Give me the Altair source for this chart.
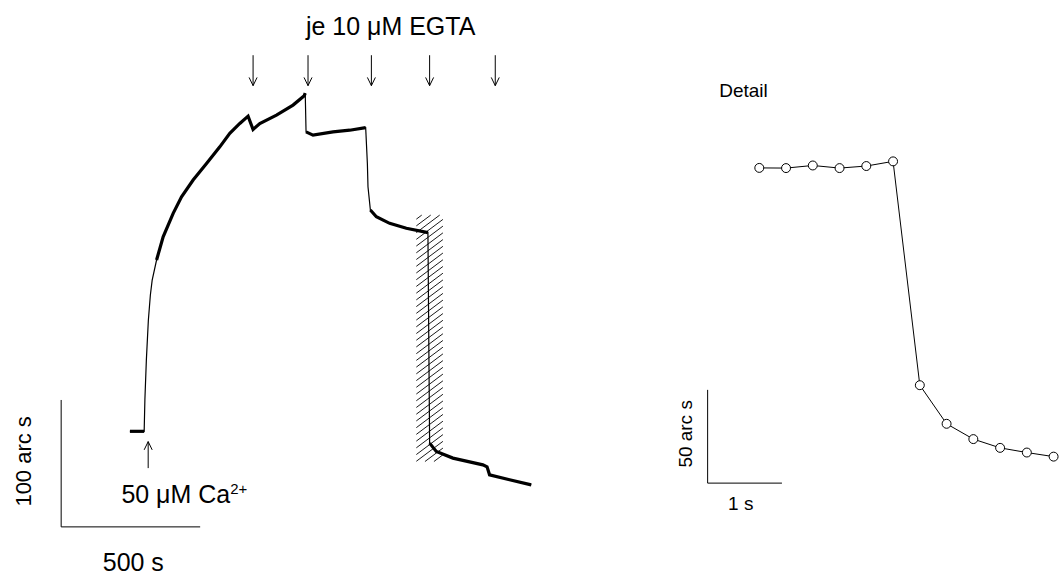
import altair as alt
import numpy as np
import pandas as pd

FONT = "Liberation Sans"

# ---- main recording: time (s) and signal (arc s) ----
trace_t = [247.3, 298.6, 301.2, 306.5, 313.7, 320.9, 327.4, 343.2, 366.9, 402.9,
           433.0, 474.7, 522.9, 570.7, 606.6, 642.6, 672.4, 690.4, 714.5, 774.5,
           834.1, 874.4, 878.0, 880.9, 906.0, 977.9, 1037.9, 1095.4, 1101.5, 1103.7,
           1112.3, 1133.8, 1181.6, 1241.7, 1319.3, 1325.4, 1349.5, 1409.1, 1516.9, 1532.0,
           1541.0, 1612.9, 1690.9]
trace_a = [75.3, 75.3, 100.1, 131.6, 163.0, 182.7, 194.5, 210.3, 228.6, 247.1,
           260.1, 273.3, 286.4, 299.5, 310.1, 317.9, 323.7, 313.2, 317.9, 324.5,
           332.4, 339.8, 341.8, 311.3, 308.7, 311.3, 312.6, 314.6, 286.4, 268.0,
           249.7, 244.4, 239.2, 235.3, 231.9, 66.0, 59.4, 54.2, 48.9, 47.3,
           41.0, 37.1, 33.1]
# stretches of the recording where the detector noise widens the trace
noisy_ranges = [(0, 1), (7, 22), (23, 27), (30, 34), (35, 42)]

# additions
egta_times = [690.4, 888.0, 1115.9, 1325.4, 1561.5]
ca_time = 313.0

# window shown in the detail panel
window_t = [1277.6, 1373.2]
window_a = [51.5, 245.7]

# ---- detail: sampled points around the fourth EGTA step ----
detail_t = [0.0, 0.36, 0.72, 1.08, 1.44, 1.80, 2.16, 2.52, 2.88, 3.24, 3.60, 3.96]
detail_a = [169.0, 168.9, 170.3, 168.9, 170.0, 172.5, 52.5, 31.8, 23.6, 18.9, 16.4, 14.2]

# ---- scales ----
MX = alt.Scale(domain=[-220, 2080], nice=False, zero=False)
MY = alt.Scale(domain=[-38.5, 415], nice=False, zero=False)
DX = alt.Scale(domain=[-1.613, 4.046], nice=False, zero=False)
DY = alt.Scale(domain=[-49.65, 258.87], nice=False, zero=False)


def xm(field, scale):
    return alt.X(field, type="quantitative", scale=scale, axis=None)


def ym(field, scale):
    return alt.Y(field, type="quantitative", scale=scale, axis=None)


def segs(df, xs, ys, width=1.0):
    return alt.Chart(df).mark_rule(color="black", strokeWidth=width).encode(
        x=xm("x", xs), x2="x2", y=ym("y", ys), y2="y2")


def label(df, xs, ys, size, **kw):
    return alt.Chart(df).mark_text(font=FONT, fontSize=size, color="black", **kw).encode(
        x=xm("x", xs), y=ym("y", ys), text="label")


# main trace
trace = pd.DataFrame({"t": trace_t, "a": trace_a})
trace_line = alt.Chart(trace).mark_line(color="black", strokeWidth=1.2).encode(
    x=xm("t", MX), y=ym("a", MY))

noisy = pd.concat([trace.iloc[i0:i1 + 1].assign(part=k) for k, (i0, i1) in enumerate(noisy_ranges)])
noisy_line = alt.Chart(noisy).mark_line(color="black", strokeWidth=3.2).encode(
    x=xm("t", MX), y=ym("a", MY), detail="part:N")

# hatched window
rise, pitch = 15.7, 5.3
t0, t1 = window_t
a0, a1 = window_a
rows = []
for c in np.arange(a0 - rise, a1, pitch):
    ts, te, ys, ye = t0, t1, c, c + rise
    if ys < a0:
        ts = t0 + (a0 - c) / rise * (t1 - t0)
        ys = a0
    if ye > a1:
        te = t0 + (a1 - c) / rise * (t1 - t0)
        ye = a1
    if te > ts:
        rows.append({"x": ts, "x2": te, "y": ys, "y2": ye})
hatch = segs(pd.DataFrame(rows), MX, MY, width=0.9)

# arrows
head_w, head_h = 14.4, 6.5
egta_tip, egta_tail = 347.7, 371.7
arrow_rows = []
for t in egta_times:
    arrow_rows += [{"x": t, "x2": t, "y": egta_tail, "y2": egta_tip},
                   {"x": t - head_w, "x2": t, "y": egta_tip + head_h, "y2": egta_tip},
                   {"x": t + head_w, "x2": t, "y": egta_tip + head_h, "y2": egta_tip}]
ca_tip, ca_tail = 67.2, 46.3
arrow_rows += [{"x": ca_time, "x2": ca_time, "y": ca_tail, "y2": ca_tip},
               {"x": ca_time - head_w, "x2": ca_time, "y": ca_tip - head_h, "y2": ca_tip},
               {"x": ca_time + head_w, "x2": ca_time, "y": ca_tip - head_h, "y2": ca_tip}]
arrows = segs(pd.DataFrame(arrow_rows), MX, MY)

# scale bars (500 s, 100 arc s)
bars = segs(pd.DataFrame([{"x": 0, "x2": 0, "y": 0, "y2": 100},
                          {"x": 0, "x2": 500, "y": 0, "y2": 0}]), MX, MY)

main_texts = alt.layer(
    label(pd.DataFrame([{"x": 1185.2, "y": 388.0, "label": "je 10 μM EGTA"}]), MX, MY, 25,
          align="center", baseline="alphabetic"),
    label(pd.DataFrame([{"x": 412.2, "y": 18.7, "label": "50 μM Ca"}]), MX, MY, 25,
          align="center", baseline="alphabetic"),
    label(pd.DataFrame([{"x": 608.4, "y": 25.7, "label": "2+"}]), MX, MY, 15,
          align="left", baseline="alphabetic"),
    label(pd.DataFrame([{"x": 259.5, "y": -34.6, "label": "500 s"}]), MX, MY, 25,
          align="center", baseline="alphabetic"),
    label(pd.DataFrame([{"x": -131.9, "y": 51.6, "label": "100 arc s"}]), MX, MY, 22,
          align="center", baseline="middle", angle=270),
)

main = alt.layer(hatch, trace_line, noisy_line, arrows, bars, main_texts).properties(
    width=640, height=576)

# detail panel
det = pd.DataFrame({"t": detail_t, "a": detail_a})
det_line = alt.Chart(det).mark_line(color="black", strokeWidth=1).encode(
    x=xm("t", DX), y=ym("a", DY))
det_pts = alt.Chart(det).mark_point(shape="circle", filled=True, fill="white", stroke="black",
                                    strokeWidth=1, size=80, opacity=1).encode(
    x=xm("t", DX), y=ym("a", DY))
det_bars = segs(pd.DataFrame([{"x": -0.695, "x2": -0.695, "y": 0, "y2": 50},
                              {"x": -0.695, "x2": 0.305, "y": 0, "y2": 0}]), DX, DY)
det_texts = alt.layer(
    label(pd.DataFrame([{"x": -0.538, "y": 206.9, "label": "Detail"}]), DX, DY, 19,
          align="left", baseline="alphabetic"),
    label(pd.DataFrame([{"x": -0.249, "y": -14.6, "label": "1 s"}]), DX, DY, 19,
          align="center", baseline="alphabetic"),
    label(pd.DataFrame([{"x": -0.988, "y": 26.4, "label": "50 arc s"}]), DX, DY, 19,
          align="center", baseline="middle", angle=270),
)
detail = alt.layer(det_bars, det_line, det_pts, det_texts).properties(width=421, height=576)

chart = alt.hconcat(main, detail, spacing=0).properties(
    padding=0, background="white").configure_view(strokeWidth=0, stroke="transparent")

chart.save("out.html", embed_options={"renderer": "svg", "actions": False})
